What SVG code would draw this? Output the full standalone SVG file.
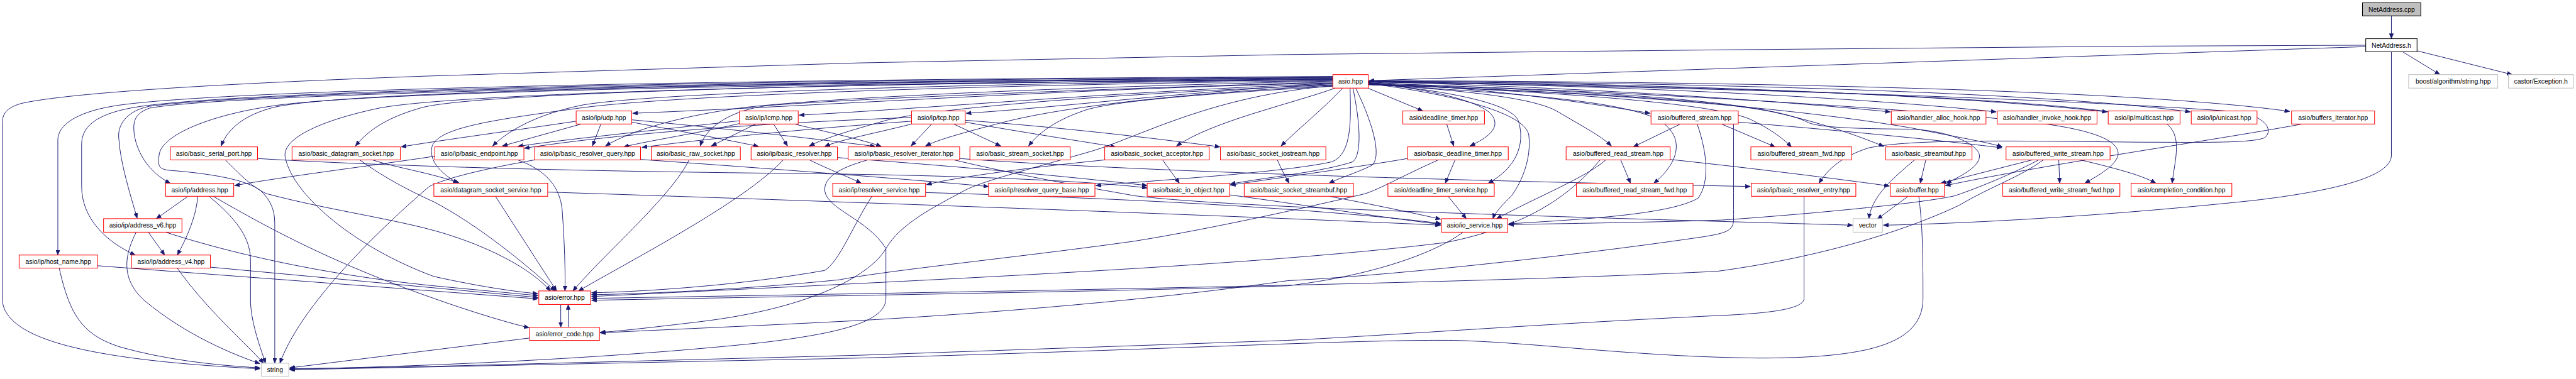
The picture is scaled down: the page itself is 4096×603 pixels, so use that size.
<svg xmlns="http://www.w3.org/2000/svg" width="4096" height="603" viewBox="0 0 4096 603">
<defs>
<marker id="ah" markerUnits="userSpaceOnUse" markerWidth="12" markerHeight="9" refX="11" refY="4.5" orient="auto">
<path d="M0,0 L11,4.5 L0,9 z" fill="#191970" stroke="#191970" stroke-width="0.8"/>
</marker>
<style>
.n rect{fill:#ffffff;stroke:#ff0000;stroke-width:1.4}
.k rect{fill:#ffffff;stroke:#000000;stroke-width:1.4}
.r rect{fill:#bfbfbf;stroke:#000000;stroke-width:1.4}
.g rect{fill:#ffffff;stroke:#bfbfbf;stroke-width:1.4}
text{font-family:"Liberation Sans",Arial,sans-serif;font-size:14px;fill:#000000;text-anchor:middle}
#edges path{fill:none;stroke:#191970;stroke-width:1.3;marker-end:url(#ah)}
</style>
</defs>
<rect width="4096" height="603" fill="#ffffff"/>
<g transform="scale(0.7418)">
<g id="edges">
<path d="M5126,34 L5126,83"/>
<path d="M5150,111 L5230,160"/>
<path d="M5181,109 L5385,160"/>
<path d="M5071,100 L2935,173"/>
<path d="M5071,97 L4591,99 L3680,107 L2760,117 L1840,135 L920,163 C500,178 150,198 45,222 C12,232 5,245 5,265 L5,640 C5,740 250,775 557,791"/>
<path d="M5126,111 L5126,333 C5126,380 5000,410 4830,430 C4500,465 4200,480 4037,483"/>
<path d="M2857,178 C2300,190 1800,225 1356,243"/>
<path d="M2857,179 C2400,196 2000,232 1713,247"/>
<path d="M2857,180 C2550,195 2300,228 2071,243"/>
<path d="M2857,168 C1500,178 700,198 580,232 C510,252 485,285 474,313"/>
<path d="M2857,169 C1800,178 1000,200 900,232 C820,255 785,285 762,313"/>
<path d="M2857,171 C2000,180 1400,200 1250,225 C1150,245 1090,280 1056,313"/>
<path d="M2857,174 C2300,186 1800,208 1600,230 C1480,245 1360,275 1298,313"/>
<path d="M2857,176 C2300,192 1800,214 1650,226 C1570,235 1515,270 1501,313"/>
<path d="M2857,182 C2400,200 2000,232 1900,258 C1830,278 1770,295 1735,313"/>
<path d="M2857,183 C2600,197 2300,222 2140,265 C2060,286 2010,300 1984,313"/>
<path d="M2857,185 C2600,200 2400,215 2330,235 C2270,255 2230,280 2205,313"/>
<path d="M2862,189 C2760,225 2600,260 2522,313"/>
<path d="M2878,189 C2840,230 2790,270 2746,313"/>
<path d="M2857,166 C1800,174 500,198 320,232 C285,245 285,265 288,290 C295,330 320,370 365,393"/>
<path d="M2857,173 C2000,183 1400,208 1234,233 C1050,258 928,275 925,320 C922,350 950,375 982,393"/>
<path d="M2894,189 C2895,250 2900,330 2855,347 C2750,370 2500,385 2349,398"/>
<path d="M2900,189 C2915,260 2920,330 2900,347 C2830,370 2700,382 2637,395"/>
<path d="M2906,189 C2950,280 2960,340 2940,355 C2905,372 2870,382 2849,393"/>
<path d="M2857,164 C1200,172 400,200 240,228 C160,242 124,270 124,300 L124,547"/>
<path d="M2857,165 C1200,174 450,203 290,230 C200,245 175,275 175,310 L175,400 C175,470 230,520 290,547"/>
<path d="M2857,167 C1300,176 500,203 320,228 C270,238 250,270 255,300 C258,350 280,420 294,468"/>
<path d="M2857,170 C1600,180 950,205 812,232 C680,260 600,300 612,340 C630,420 760,530 930,593 C1030,615 1100,625 1153,630"/>
<path d="M2857,171 C1500,180 800,200 600,225 C450,245 345,290 341,333 C338,355 340,362 360,365 C450,372 530,385 560,410 C580,430 589,450 589,480 L589,779"/>
<path d="M2857,184 C2600,205 2450,290 2344,323 C2200,365 2100,390 2065,410 C2000,445 1930,480 1899,533 C1870,585 1750,660 1500,690 C1400,702 1330,710 1286,713"/>
<path d="M2932,189 L3050,238"/>
<path d="M2933,177 C3050,190 3180,215 3200,250 C3215,275 3190,295 3151,313"/>
<path d="M2933,178 C3100,195 3240,220 3255,260 C3270,310 3250,360 3190,393"/>
<path d="M2933,179 C3100,200 3270,240 3277,290 C3283,340 3262,390 3240,420 C3220,440 3205,455 3200,469"/>
<path d="M2933,180 C3150,195 3290,210 3340,240 C3390,270 3430,290 3454,313"/>
<path d="M2933,181 C3250,200 3450,215 3540,250 C3610,280 3610,340 3545,393"/>
<path d="M2933,176 C3200,190 3400,220 3537,243"/>
<path d="M2933,175 C3400,188 3800,215 4052,240"/>
<path d="M2933,175 C3500,184 4000,210 4279,240"/>
<path d="M2933,174 C3600,179 4200,205 4517,240"/>
<path d="M2933,174 C3700,177 4400,200 4695,240"/>
<path d="M2933,173 C3800,175 4600,195 4908,239"/>
<path d="M2933,180 C3400,200 3700,225 3760,260 C3800,280 3825,300 3840,315"/>
<path d="M2933,181 C3300,195 3650,210 3800,240 C3900,262 3980,290 4038,314"/>
<path d="M2933,182 C3500,198 3900,240 4100,275 C4200,295 4260,305 4292,315"/>
<path d="M2933,176 C3600,186 4400,210 4800,240 C4860,252 4872,280 4855,295 C4830,308 4700,305 4591,305 C4300,302 4100,298 4006,317 C3950,335 3920,360 3899,393"/>
<path d="M2933,180 C3500,196 3800,222 3876,263 C3900,272 3950,276 4095,277 C4180,280 4240,310 4243,333 C4245,355 4210,375 4172,393"/>
<path d="M2933,178 C3600,200 4200,240 4392,267 C4480,280 4545,300 4540,333 C4535,355 4500,375 4469,393"/>
<path d="M2933,175 C3800,186 4500,215 4640,262 C4680,290 4662,340 4656,393"/>
<path d="M1235,260 C1100,280 950,300 860,315"/>
<path d="M1246,266 L1077,313"/>
<path d="M1288,266 L1270,313"/>
<path d="M1354,262 C1450,280 1560,300 1626,314"/>
<path d="M1354,257 C1550,275 1750,298 1876,314"/>
<path d="M1585,259 C1400,280 1200,300 1110,314"/>
<path d="M1585,265 C1500,285 1400,300 1337,315"/>
<path d="M1620,266 L1525,313"/>
<path d="M1658,266 L1688,313"/>
<path d="M1703,266 C1780,285 1850,300 1889,314"/>
<path d="M1954,252 C1600,265 1300,290 1124,318"/>
<path d="M1954,260 C1700,278 1500,300 1376,316"/>
<path d="M1954,266 C1880,285 1800,300 1768,314"/>
<path d="M1997,266 L1953,313"/>
<path d="M2044,266 L2145,313"/>
<path d="M2069,262 C2200,285 2330,305 2391,315"/>
<path d="M2069,258 C2300,275 2500,300 2615,315"/>
<path d="M3101,266 L3116,313"/>
<path d="M3602,266 L3501,315"/>
<path d="M3690,266 L3805,315"/>
<path d="M3726,262 C3950,280 4150,300 4291,317"/>
<path d="M3638,266 C3660,330 3665,390 3640,425 C3580,460 3400,470 3234,480"/>
<path d="M3716,266 C3716,330 3716,420 3716,470 C3716,495 3700,500 3650,508 C3400,545 3000,590 2760,602 C2500,640 2150,670 1850,687 C1600,700 1400,708 1287,714"/>
<path d="M483,343 C520,380 540,400 570,415 C700,450 850,470 950,500 C1080,540 1150,590 1180,624"/>
<path d="M552,340 C800,355 1200,367 1700,372 C2100,376 2350,390 2459,403"/>
<path d="M798,343 C850,360 930,372 985,393"/>
<path d="M771,343 C830,385 880,410 930,433 C1020,480 1120,560 1190,624"/>
<path d="M932,335 C800,355 600,380 503,398"/>
<path d="M1110,343 C1170,365 1200,400 1205,450 C1210,520 1212,580 1211,624"/>
<path d="M1373,342 C1700,365 1950,385 2119,400"/>
<path d="M1146,343 C1050,360 960,380 920,400 C850,460 650,640 600,779"/>
<path d="M1477,343 C1440,420 1300,540 1228,624"/>
<path d="M1679,343 C1600,430 1350,560 1240,624"/>
<path d="M1735,343 C1780,365 1820,380 1846,393"/>
<path d="M1795,338 C2100,360 2350,385 2459,398"/>
<path d="M1860,343 C1800,360 1765,380 1768,410 C1775,450 1860,470 1899,533 L1899,640 C1899,690 1800,715 1632,735 C1300,770 900,786 621,792"/>
<path d="M2045,343 C2200,380 2350,405 2433,420 C2600,440 3000,455 3690,475 C3800,478 3900,481 3971,483"/>
<path d="M2057,340 C2400,365 3000,385 3752,400"/>
<path d="M2492,343 L2528,393"/>
<path d="M2368,343 C2200,360 2050,380 1986,396"/>
<path d="M2738,343 C2745,360 2755,378 2763,393"/>
<path d="M3119,343 L3098,393"/>
<path d="M3017,340 C2900,360 2750,380 2637,397"/>
<path d="M3083,343 C3000,380 2950,410 2920,417 C2800,445 2600,490 2433,517 C2200,550 1900,580 1800,600 C1600,620 1400,630 1268,632"/>
<path d="M3442,343 C3400,380 3300,420 3208,469"/>
<path d="M3474,343 L3495,393"/>
<path d="M3580,342 C3750,360 3950,385 4050,399"/>
<path d="M3430,343 C3380,400 3300,480 3100,520 C2700,570 2000,600 1268,636"/>
<path d="M4128,343 L4116,393"/>
<path d="M4104,343 C4060,380 4012,420 4006,469"/>
<path d="M4356,343 L4160,393"/>
<path d="M4413,343 L4415,393"/>
<path d="M4460,343 C4530,360 4590,375 4621,393"/>
<path d="M4370,343 C4300,380 4220,410 4190,420 C4100,440 3800,465 3690,472 C3500,478 3300,480 3234,482"/>
<path d="M4380,343 C4330,380 4267,400 4200,440 C4095,490 3917,550 3680,582 C3300,600 2800,613 1840,630 L1268,640"/>
<path d="M4935,266 C4750,300 4400,350 4170,398"/>
<path d="M4090,421 L4024,470"/>
<path d="M4113,421 C4120,480 4122,520 4122,640 C4122,740 4000,768 3769,768 C3500,765 3300,735 3116,730 C2900,728 2500,750 1840,768 L920,787 L621,793"/>
<path d="M3867,421 L3867,640 C3867,662 3800,672 3680,677 C3300,695 3000,718 2760,730 L1840,762 L920,786 L621,791"/>
<path d="M1062,421 L1193,624"/>
<path d="M1174,412 C1800,432 2700,465 3088,483"/>
<path d="M1869,421 C1830,480 1800,560 1768,580 C1600,610 1400,625 1268,628"/>
<path d="M1984,413 C2400,425 2800,445 3088,479"/>
<path d="M2636,418 C2800,440 2950,465 3088,481"/>
<path d="M2849,421 C2950,440 3020,455 3088,470"/>
<path d="M3104,421 L3143,469"/>
<path d="M403,421 L335,469"/>
<path d="M424,421 C420,470 395,520 380,547"/>
<path d="M448,421 C520,480 537,520 537,560 L537,650 C540,700 560,750 569,779"/>
<path d="M457,421 C560,480 700,560 930,640 C1000,665 1080,690 1134,703"/>
<path d="M318,498 L353,547"/>
<path d="M292,498 C265,550 260,600 310,645 C400,720 500,760 557,780"/>
<path d="M355,498 C500,545 700,590 930,613 L1153,634"/>
<path d="M380,575 C440,660 520,730 565,779"/>
<path d="M451,573 L1153,638"/>
<path d="M127,575 C150,680 180,720 260,745 C350,770 450,783 557,789"/>
<path d="M209,570 L1153,641"/>
<path d="M3136,498 C3080,540 2950,590 2760,613 C2400,625 1800,634 1268,644"/>
<path d="M1202,653 L1202,702"/>
<path d="M1218,702 L1218,653"/>
<path d="M1135,725 L621,789"/>
</g>
<g id="n_cpp" class="r"><rect x="5064" y="6" width="125" height="28"/><text x="5126.5" y="25">NetAddress.cpp</text></g>
<g id="n_h" class="k"><rect x="5071" y="83" width="110" height="28"/><text x="5126" y="102">NetAddress.h</text></g>
<g id="n_asio" class="n"><rect x="2857" y="160" width="76" height="29"/><text x="2895" y="179">asio.hpp</text></g>
<g id="n_boost" class="g"><rect x="5163" y="160" width="191" height="29"/><text x="5258.5" y="179">boost/algorithm/string.hpp</text></g>
<g id="n_castor" class="g"><rect x="5377" y="160" width="139" height="29"/><text x="5446.5" y="179">castor/Exception.h</text></g>
<g id="n_udp" class="n"><rect x="1235" y="238" width="119" height="28"/><text x="1294.5" y="257">asio/ip/udp.hpp</text></g>
<g id="n_icmp" class="n"><rect x="1585" y="238" width="126" height="28"/><text x="1648" y="257">asio/ip/icmp.hpp</text></g>
<g id="n_tcp" class="n"><rect x="1954" y="238" width="115" height="28"/><text x="2011.5" y="257">asio/ip/tcp.hpp</text></g>
<g id="n_dt" class="n"><rect x="3007" y="238" width="175" height="28"/><text x="3094.5" y="257">asio/deadline_timer.hpp</text></g>
<g id="n_bs" class="n"><rect x="3539" y="238" width="187" height="28"/><text x="3632.5" y="257">asio/buffered_stream.hpp</text></g>
<g id="n_hah" class="n"><rect x="4054" y="238" width="203" height="28"/><text x="4155.5" y="257">asio/handler_alloc_hook.hpp</text></g>
<g id="n_hih" class="n"><rect x="4281" y="238" width="214" height="28"/><text x="4388" y="257">asio/handler_invoke_hook.hpp</text></g>
<g id="n_mc" class="n"><rect x="4519" y="238" width="154" height="28"/><text x="4596" y="257">asio/ip/multicast.hpp</text></g>
<g id="n_uc" class="n"><rect x="4697" y="238" width="141" height="28"/><text x="4767.5" y="257">asio/ip/unicast.hpp</text></g>
<g id="n_bi" class="n"><rect x="4912" y="238" width="178" height="28"/><text x="5001" y="257">asio/buffers_iterator.hpp</text></g>
<g id="n_bsp" class="n"><rect x="365" y="315" width="187" height="28"/><text x="458.5" y="334">asio/basic_serial_port.hpp</text></g>
<g id="n_bds" class="n"><rect x="626" y="315" width="232" height="28"/><text x="742" y="334">asio/basic_datagram_socket.hpp</text></g>
<g id="n_bep" class="n"><rect x="932" y="315" width="191" height="28"/><text x="1027.5" y="334">asio/ip/basic_endpoint.hpp</text></g>
<g id="n_brq" class="n"><rect x="1146" y="315" width="227" height="28"/><text x="1259.5" y="334">asio/ip/basic_resolver_query.hpp</text></g>
<g id="n_brw" class="n"><rect x="1396" y="315" width="191" height="28"/><text x="1491.5" y="334">asio/basic_raw_socket.hpp</text></g>
<g id="n_br" class="n"><rect x="1610" y="315" width="185" height="28"/><text x="1702.5" y="334">asio/ip/basic_resolver.hpp</text></g>
<g id="n_bri" class="n"><rect x="1818" y="315" width="239" height="28"/><text x="1937.5" y="334">asio/ip/basic_resolver_iterator.hpp</text></g>
<g id="n_bss" class="n"><rect x="2079" y="315" width="215" height="28"/><text x="2186.5" y="334">asio/basic_stream_socket.hpp</text></g>
<g id="n_bsa" class="n"><rect x="2368" y="315" width="224" height="28"/><text x="2480" y="334">asio/basic_socket_acceptor.hpp</text></g>
<g id="n_bsi" class="n"><rect x="2616" y="315" width="226" height="28"/><text x="2729" y="334">asio/basic_socket_iostream.hpp</text></g>
<g id="n_bdt" class="n"><rect x="3017" y="315" width="216" height="28"/><text x="3125" y="334">asio/basic_deadline_timer.hpp</text></g>
<g id="n_brd" class="n"><rect x="3357" y="315" width="223" height="28"/><text x="3468.5" y="334">asio/buffered_read_stream.hpp</text></g>
<g id="n_bsf" class="n"><rect x="3753" y="315" width="216" height="28"/><text x="3861" y="334">asio/buffered_stream_fwd.hpp</text></g>
<g id="n_bsb" class="n"><rect x="4042" y="315" width="185" height="28"/><text x="4134.5" y="334">asio/basic_streambuf.hpp</text></g>
<g id="n_bws" class="n"><rect x="4300" y="315" width="223" height="28"/><text x="4411.5" y="334">asio/buffered_write_stream.hpp</text></g>
<g id="n_addr" class="n"><rect x="355" y="393" width="146" height="28"/><text x="428" y="412">asio/ip/address.hpp</text></g>
<g id="n_dss" class="n"><rect x="930" y="393" width="244" height="28"/><text x="1052" y="412">asio/datagram_socket_service.hpp</text></g>
<g id="n_rs" class="n"><rect x="1785" y="393" width="199" height="28"/><text x="1884.5" y="412">asio/ip/resolver_service.hpp</text></g>
<g id="n_rqb" class="n"><rect x="2119" y="393" width="228" height="28"/><text x="2233" y="412">asio/ip/resolver_query_base.hpp</text></g>
<g id="n_bio" class="n"><rect x="2459" y="393" width="177" height="28"/><text x="2547.5" y="412">asio/basic_io_object.hpp</text></g>
<g id="n_bssb" class="n"><rect x="2667" y="393" width="234" height="28"/><text x="2784" y="412">asio/basic_socket_streambuf.hpp</text></g>
<g id="n_dts" class="n"><rect x="2975" y="393" width="228" height="28"/><text x="3089" y="412">asio/deadline_timer_service.hpp</text></g>
<g id="n_brsf" class="n"><rect x="3379" y="393" width="250" height="28"/><text x="3504" y="412">asio/buffered_read_stream_fwd.hpp</text></g>
<g id="n_bre" class="n"><rect x="3754" y="393" width="224" height="28"/><text x="3866" y="412">asio/ip/basic_resolver_entry.hpp</text></g>
<g id="n_buf" class="n"><rect x="4052" y="393" width="116" height="28"/><text x="4110" y="412">asio/buffer.hpp</text></g>
<g id="n_bwsf" class="n"><rect x="4293" y="393" width="251" height="28"/><text x="4418.5" y="412">asio/buffered_write_stream_fwd.hpp</text></g>
<g id="n_cc" class="n"><rect x="4568" y="393" width="216" height="28"/><text x="4676" y="412">asio/completion_condition.hpp</text></g>
<g id="n_a6" class="n"><rect x="222" y="469" width="168" height="29"/><text x="306" y="488">asio/ip/address_v6.hpp</text></g>
<g id="n_ios" class="n"><rect x="3090" y="469" width="142" height="29"/><text x="3161" y="488">asio/io_service.hpp</text></g>
<g id="n_vec" class="g"><rect x="3972" y="469" width="63" height="29"/><text x="4003.5" y="488">vector</text></g>
<g id="n_hn" class="n"><rect x="41" y="547" width="168" height="28"/><text x="125" y="566">asio/ip/host_name.hpp</text></g>
<g id="n_a4" class="n"><rect x="282" y="547" width="169" height="28"/><text x="366.5" y="566">asio/ip/address_v4.hpp</text></g>
<g id="n_err" class="n"><rect x="1155" y="624" width="111" height="29"/><text x="1210.5" y="643">asio/error.hpp</text></g>
<g id="n_ec" class="n"><rect x="1135" y="702" width="150" height="28"/><text x="1210" y="721">asio/error_code.hpp</text></g>
<g id="n_str" class="g"><rect x="560" y="779" width="59" height="28"/><text x="589.5" y="798">string</text></g>
</g>
</svg>
